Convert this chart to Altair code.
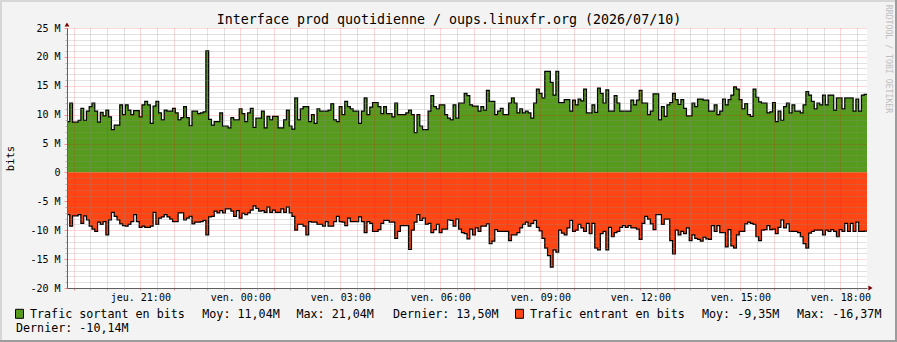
import json
import altair as alt
import pandas as pd

# ---------------------------------------------------------------- texts
TITLE = "Interface prod quotidienne / oups.linuxfr.org (2026/07/10)"
WATERMARK = "RRDTOOL / TOBI OETIKER"
Y_TITLE = "bits"
legend_out_items = ["Trafic sortant en bits", "Moy: 11,04M", "Max: 21,04M", "Dernier: 13,50M"]
legend_in_items = ["Trafic entrant en bits", "Moy: -9,35M", "Max: -16,37M", "Dernier: -10,14M"]

# ---------------------------------------------------------------- axes
# x = hours since Thursday 00:00, one reading every 5 minutes
START_HOUR = 18.8
STEP_HOURS = 5 / 60
X_DOMAIN = [18.8, 42.8]
Y_DOMAIN = [-20, 25]  # M bits

x_label_hours = [21, 24, 27, 30, 33, 36, 39, 42]
x_tick_labels = ["jeu. 21:00", "ven. 00:00", "ven. 03:00", "ven. 06:00",
                 "ven. 09:00", "ven. 12:00", "ven. 15:00", "ven. 18:00"]
x_major_hours = list(range(19, 43))
x_minor_hours = [h + 0.5 for h in range(19, 43)]
y_tick_values = [-20, -15, -10, -5, 0, 5, 10, 15, 20, 25]
y_tick_labels = ["-20 M", "-15 M", "-10 M", "-5 M", "0", "5 M", "10 M", "15 M", "20 M", "25 M"]
y_minor_values = [v for v in range(-20, 26) if v % 5]

# ---------------------------------------------------------------- data (M bits)
sortant = [
    8.8, 12.0, 8.7, 8.7, 9.0, 11.1, 9.0, 10.6, 11.4, 12.0,
    10.6, 8.7, 10.4, 9.8, 10.8, 9.6, 7.4, 8.2, 8.2, 11.7,
    10.0, 11.7, 10.8, 10.0, 10.7, 10.7, 9.6, 11.7, 12.3, 11.7,
    8.5, 11.5, 12.3, 10.3, 9.1, 10.8, 10.6, 10.6, 11.1, 10.3,
    9.1, 9.5, 11.4, 9.5, 8.1, 10.6, 10.6, 10.2, 10.3, 10.5,
    21.04, 9.2, 8.2, 8.8, 8.8, 10.3, 8.0, 8.0, 7.7, 9.5,
    9.1, 9.1, 11.0, 10.2, 8.8, 10.3, 11.1, 7.8, 9.4, 9.4,
    10.6, 7.7, 9.7, 9.1, 9.7, 9.7, 7.7, 7.7, 9.1, 10.8,
    8.0, 7.5, 12.9, 9.1, 11.0, 11.4, 11.4, 8.8, 10.0, 8.5,
    11.0, 10.6, 10.6, 10.6, 10.8, 11.9, 9.1, 8.8, 11.4, 10.0,
    12.3, 11.4, 11.0, 10.6, 10.6, 8.5, 10.6, 12.9, 10.0, 11.3,
    12.1, 12.1, 11.4, 10.2, 11.4, 10.2, 10.2, 9.6, 12.0, 10.0,
    10.0, 10.0, 10.3, 10.8, 10.0, 6.9, 10.0, 8.0, 7.4, 7.4,
    10.6, 13.3, 11.4, 11.0, 11.7, 11.7, 10.0, 9.4, 9.1, 11.7,
    9.4, 12.0, 12.0, 13.7, 13.3, 11.7, 11.5, 11.5, 10.6, 11.4,
    10.8, 14.2, 12.3, 12.3, 10.0, 10.6, 11.1, 10.0, 10.0, 12.0,
    12.9, 12.0, 10.3, 11.0, 10.3, 10.6, 10.3, 9.4, 12.0, 14.4,
    13.7, 12.9, 17.5, 17.5, 15.6, 13.4, 17.5, 12.1, 12.1, 12.6,
    12.6, 10.6, 12.5, 11.7, 12.7, 12.4, 14.4, 10.3, 10.3, 11.7,
    10.4, 14.6, 13.7, 12.0, 14.3, 10.6, 10.6, 13.3, 12.0, 10.6,
    10.6, 10.6, 10.6, 12.5, 11.7, 12.5, 14.2, 12.0, 12.0, 10.0,
    10.6, 13.6, 13.6, 9.1, 11.4, 9.7, 11.7, 12.1, 13.7, 12.6,
    11.8, 12.6, 11.1, 9.8, 9.8, 12.0, 11.4, 12.7, 12.7, 12.5,
    12.5, 10.6, 10.6, 11.7, 10.0, 10.6, 12.7, 11.7, 12.6, 13.4,
    14.8, 14.4, 12.6, 11.0, 11.9, 10.0, 9.7, 14.4, 13.0, 12.2,
    12.0, 12.0, 10.3, 10.5, 12.1, 8.8, 10.6, 9.0, 11.4, 12.0,
    10.3, 11.7, 10.6, 10.6, 10.3, 11.7, 14.0, 13.4, 12.3, 11.0,
    12.0, 11.7, 13.4, 11.7, 13.4, 13.4, 10.8, 12.9, 12.9, 11.0,
    12.9, 12.9, 12.9, 10.6, 12.7, 10.6, 13.4, 13.5,
]
entrant = [
    7.3, 9.3, 7.5, 7.5, 7.3, 8.8, 7.5, 8.2, 9.3, 9.8,
    10.2, 8.6, 9.0, 8.5, 10.8, 8.2, 6.9, 7.6, 8.2, 8.9,
    9.2, 9.3, 9.0, 8.5, 7.3, 8.5, 9.5, 9.3, 9.5, 9.5,
    9.3, 6.9, 9.0, 7.9, 7.7, 7.3, 7.7, 8.1, 8.5, 8.5,
    7.0, 7.0, 8.2, 7.9, 7.6, 8.9, 8.6, 8.6, 8.5, 8.3,
    10.8, 7.7, 7.6, 6.7, 7.0, 6.6, 7.0, 6.3, 6.3, 6.7,
    7.6, 6.6, 7.9, 7.1, 7.3, 7.0, 6.5, 5.8, 6.2, 6.7,
    6.6, 6.9, 6.0, 6.9, 6.5, 6.9, 6.9, 6.3, 6.9, 6.0,
    7.0, 7.6, 10.0, 9.0, 9.0, 9.3, 10.8, 8.5, 8.6, 8.6,
    9.0, 9.0, 9.3, 8.5, 9.3, 9.3, 8.5, 7.6, 8.5, 8.6,
    9.2, 7.9, 8.5, 8.5, 8.5, 7.7, 8.5, 10.4, 8.5, 8.8,
    10.2, 10.2, 9.9, 8.8, 8.3, 8.3, 8.6, 8.6, 11.4, 10.2,
    9.2, 9.2, 9.2, 13.3, 10.0, 8.6, 7.3, 8.3, 7.9, 9.0,
    8.8, 10.4, 9.9, 9.0, 10.4, 9.8, 9.8, 8.2, 8.3, 9.3,
    8.1, 9.8, 10.4, 10.6, 11.5, 9.8, 10.8, 9.6, 10.2, 9.3,
    9.3, 8.9, 12.3, 11.9, 9.9, 10.2, 10.2, 10.2, 10.2, 11.8,
    10.8, 10.8, 10.4, 9.6, 9.0, 8.6, 9.3, 8.8, 8.3, 9.5,
    10.1, 11.4, 13.1, 14.4, 16.37, 13.4, 13.8, 10.0, 10.5, 10.8,
    9.6, 8.3, 10.2, 10.0, 9.0, 9.6, 10.2, 8.8, 10.6, 8.8,
    13.1, 13.4, 10.6, 10.2, 13.4, 9.5, 11.1, 10.4, 10.2, 9.5,
    9.2, 9.5, 9.2, 9.6, 9.6, 9.8, 11.6, 8.8, 7.6, 8.1,
    8.9, 9.9, 7.3, 7.3, 9.0, 8.1, 8.1, 11.8, 14.1, 10.0,
    10.8, 10.2, 10.6, 9.6, 11.8, 10.8, 11.4, 11.6, 11.9, 11.2,
    11.5, 11.6, 9.2, 10.2, 9.2, 10.4, 10.4, 12.9, 9.9, 12.7,
    13.1, 10.8, 10.2, 10.2, 8.9, 8.6, 8.8, 9.0, 11.1, 11.8,
    10.0, 9.9, 9.2, 9.9, 9.8, 10.6, 9.5, 8.2, 9.6, 8.9,
    10.2, 10.2, 10.2, 10.4, 11.1, 12.3, 13.1, 10.5, 10.2, 10.0,
    10.0, 10.0, 10.8, 10.0, 10.2, 9.9, 10.2, 11.1, 9.9, 10.2,
    8.8, 10.2, 8.8, 10.2, 8.6, 10.2, 10.2, 10.14,
]

# ---------------------------------------------------------------- table
n = len(sortant)
hours = [START_HOUR + i * STEP_HOURS for i in range(n + 1)]  # last row closes the last step
df = pd.DataFrame({
    "h": hours,
    "sortant": sortant + sortant[-1:],
    "entrant": [-v for v in entrant] + [-entrant[-1]],
})

# ---------------------------------------------------------------- style
FONT = "DejaVu Sans Mono"
GREEN = "#569B1D"
RED = "#FE4614"
ARROW = "#7F0000"
AXIS_COLOR = "#606060"
MGRID = "#FF0000"
GRID = "#8C8C8C"
PLOT_W, PLOT_H = 800, 260
PAD = {"left": 67, "top": 28, "right": 30, "bottom": 54}

xs = alt.Scale(domain=X_DOMAIN, nice=False, zero=False)
ys = alt.Scale(domain=Y_DOMAIN, nice=False, zero=False)

xlab = json.dumps(x_label_hours)
x_label_expr = f"indexof({xlab}, datum.value) >= 0 ? {json.dumps(x_tick_labels)}[indexof({xlab}, datum.value)] : ''"
y_label_expr = f"{json.dumps(y_tick_labels)}[indexof({json.dumps(y_tick_values)}, datum.value)]"

major_x = alt.Axis(
    orient="bottom", values=x_major_hours, labelExpr=x_label_expr, title=None,
    grid=True, gridColor=MGRID, gridOpacity=0.3, gridDash=[1, 1], gridWidth=1,
    ticks=True, tickColor=MGRID, tickOpacity=0.4, tickSize=2,
    domain=True, domainColor=AXIS_COLOR, domainWidth=1,
    labelFont=FONT, labelFontSize=10, labelColor="#000000", labelPadding=2,
    labelOverlap=False, labelFlush=False, zindex=1,
)
major_y = alt.Axis(
    orient="left", values=y_tick_values, labelExpr=y_label_expr,
    grid=True, gridColor=MGRID, gridOpacity=0.3, gridDash=[1, 1], gridWidth=1,
    ticks=True, tickColor=MGRID, tickOpacity=0.4, tickSize=3,
    domain=True, domainColor=AXIS_COLOR, domainWidth=1,
    labelFont=FONT, labelFontSize=10, labelColor="#000000", labelPadding=4,
    labelOverlap=False, labelFlush=False,
    title=Y_TITLE, titleFont=FONT, titleFontSize=10.5, titleFontWeight="normal",
    titleColor="#000000", titleX=-57, titleY=PLOT_H / 2, titleAngle=270,
    titleAlign="center", titleBaseline="middle", zindex=1,
)
minor_x = alt.Axis(
    orient="bottom", values=x_minor_hours, labels=False, title=None, domain=False,
    grid=True, gridColor=GRID, gridOpacity=0.5, gridDash=[1, 1], gridWidth=1,
    ticks=True, tickColor=GRID, tickOpacity=0.6, tickSize=2, zindex=1,
)
minor_y = alt.Axis(
    orient="left", values=y_minor_values, labels=False, title=None, domain=False,
    grid=True, gridColor=GRID, gridOpacity=0.5, gridDash=[1, 1], gridWidth=1,
    ticks=True, tickColor=GRID, tickOpacity=0.6, tickSize=2, zindex=1,
)

base = alt.Chart(df)
area_out = base.mark_area(interpolate="step-after", color=GREEN, opacity=1).encode(
    x=alt.X("h:Q", scale=xs, axis=major_x),
    y=alt.Y("sortant:Q", scale=ys, axis=major_y),
    y2=alt.datum(0),
)
area_in = base.mark_area(interpolate="step-after", color=RED, opacity=1).encode(
    x=alt.X("h:Q", scale=xs, axis=minor_x),
    y=alt.Y("entrant:Q", scale=ys, axis=minor_y),
    y2=alt.datum(0),
)
line_out = base.mark_line(interpolate="step-after", color="#000000", strokeWidth=1.25).encode(
    x=alt.X("h:Q", scale=xs, axis=None),
    y=alt.Y("sortant:Q", scale=ys, axis=None),
)
line_in = base.mark_line(interpolate="step-after", color="#000000", strokeWidth=1.25).encode(
    x=alt.X("h:Q", scale=xs, axis=None),
    y=alt.Y("entrant:Q", scale=ys, axis=None),
)

one = alt.Data(values=[{}])


def text(txt, x, y, size=11.7, color="#000000", align="left", angle=0):
    kw = dict(text=txt, font=FONT, fontSize=size, color=color, align=align,
              baseline="alphabetic")
    if angle:
        kw.update(angle=angle, baseline="middle")
    return alt.Chart(one).mark_text(**kw).encode(x=alt.value(x), y=alt.value(y))


def box(color, x, y, w=8, h=9):
    return alt.Chart(one).mark_rect(fill=color, stroke="#000000", strokeWidth=1).encode(
        x=alt.value(x), x2=alt.value(x + w), y=alt.value(y), y2=alt.value(y + h))


def rule(x, x2, y, y2, color, w=2):
    return alt.Chart(one).mark_rule(color=color, strokeWidth=w).encode(
        x=alt.value(x), x2=alt.value(x2), y=alt.value(y), y2=alt.value(y2))


arrow_up = alt.Chart(one).mark_point(shape="triangle-up", filled=True, size=24,
                                     color=ARROW, opacity=1).encode(
    x=alt.value(0), y=alt.value(-3.5))
arrow_right = alt.Chart(one).mark_point(shape="triangle-right", filled=True, size=24,
                                        color=ARROW, opacity=1).encode(
    x=alt.value(PLOT_W + 3.5), y=alt.value(PLOT_H))

R1, R2 = 290.3, 303.7
decor = [
    text(TITLE, 382, -3.7, size=13.3, align="center"),
    text(WATERMARK, 820.5, 31, size=8.2, color="#BEBEBE", align="center", angle=90),
    box(GREEN, -51.5, 281.3),
    text(legend_out_items[0], -37, R1),
    text(legend_out_items[1], 135.3, R1),
    text(legend_out_items[2], 229.5, R1),
    text(legend_out_items[3], 326, R1),
    box(RED, 448.5, 281.3),
    text(legend_in_items[0], 463, R1),
    text(legend_in_items[1], 635, R1),
    text(legend_in_items[2], 730, R1),
    text(legend_in_items[3], -51, R2),
    rule(-67, 830, -27, -27, "#D6D6D6"),
    rule(-66, -66, -28, 314, "#D6D6D6"),
    rule(-67, 830, 313, 313, "#9C9C9C"),
    rule(829, 829, -28, 314, "#9C9C9C"),
    arrow_up,
    arrow_right,
]

chart = alt.layer(area_out, area_in, line_out, line_in, *decor).resolve_axis(
    x="independent", y="independent"
).properties(
    width=PLOT_W, height=PLOT_H, padding=PAD,
    autosize=alt.AutoSizeParams(type="none"),
    background="#F3F3F3",
).configure_view(fill="#FFFFFF", stroke=None)

chart.save("out.html", embed_options={"renderer": "svg", "actions": False})
